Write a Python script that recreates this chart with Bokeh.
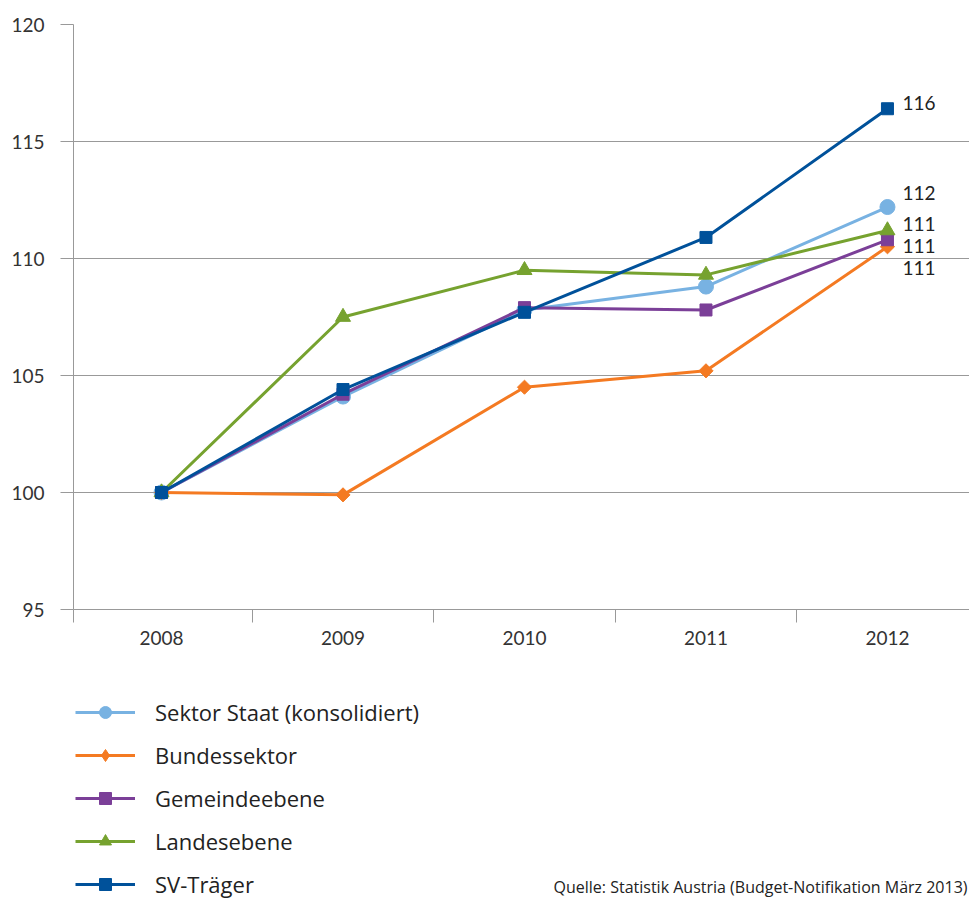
import math
from bokeh.plotting import figure
from bokeh.layouts import column
from bokeh.models import FixedTicker, Legend, LegendItem, Label, Range1d
from bokeh.core.properties import value
from bokeh.embed import file_html
from bokeh.resources import INLINE

years = ["2008", "2009", "2010", "2011", "2012"]
staat = [100.0, 104.1, 107.8, 108.8, 112.2]
bund = [100.0, 99.9, 104.5, 105.2, 110.5]
gemeinde = [100.0, 104.2, 107.9, 107.8, 110.8]
land = [100.0, 107.5, 109.5, 109.3, 111.2]
sv = [100.0, 104.4, 107.7, 110.9, 116.4]
end_labels = ["112", "111", "111", "111", "116"]
names = ["Sektor Staat (konsolidiert)", "Bundessektor", "Gemeindeebene", "Landesebene", "SV-Träger"]
source_text = "Quelle: Statistik Austria (Budget-Notifikation März 2013)"
y_ticks = [95, 100, 105, 110, 115, 120]

xs = list(range(len(years)))

FONT_T = "Lato"
FONT_L = "Open Sans"

p = figure(frame_width=896, frame_height=585, output_backend="svg", toolbar_location=None,
           x_range=Range1d(-0.485, 4.452), y_range=Range1d(95, 120),
           min_border_left=73, min_border_top=24, min_border_right=0, min_border_bottom=60)
p.outline_line_color = None
p.background_fill_color = "white"

# y axis
p.yaxis.ticker = FixedTicker(ticks=y_ticks)
p.yaxis.axis_line_color = "#999999"
p.yaxis.major_tick_line_color = "#999999"
p.yaxis.major_tick_out = 13
p.yaxis.major_tick_in = 0
p.yaxis.minor_tick_line_color = None
p.yaxis.major_label_text_font = FONT_T
p.yaxis.major_label_text_font_size = "19px"
p.yaxis.major_label_text_color = "#333333"
p.yaxis.major_label_standoff = 16
p.ygrid.ticker = FixedTicker(ticks=y_ticks)
p.ygrid.grid_line_color = "#999999"
p.xgrid.grid_line_color = None

# x axis
p.xaxis.ticker = FixedTicker(ticks=xs, minor_ticks=[-0.485, 0.5, 1.5, 2.5, 3.5])
p.xaxis.major_label_overrides = {i: y for i, y in enumerate(years)}
p.xaxis.axis_line_color = "#999999"
p.xaxis.major_tick_line_color = None
p.xaxis.minor_tick_line_color = "#999999"
p.xaxis.minor_tick_out = 13
p.xaxis.minor_tick_in = 0
p.xaxis.major_label_text_font = FONT_T
p.xaxis.major_label_text_font_size = "19px"
p.xaxis.major_label_text_color = "#333333"
p.xaxis.major_label_standoff = 8

series = [
    (staat, "#78b2e2", "circle", 15, 0),
    (bund, "#f47a22", "square", 10, math.pi / 4),
    (gemeinde, "#7b3f98", "square", 12, 0),
    (land, "#76a22f", "triangle", 15, 0),
    (sv, "#00519a", "square", 12, 0),
]
legend_markers = [("circle", 15), ("diamond", 17), ("square", 13), ("triangle", 15), ("square", 13)]
label_offsets = [-14, 21, 6, -6, -6]

for (vals, col, marker, size, ang) in series:
    p.line(xs, vals, line_color=col, line_width=3)
    p.scatter(xs, vals, marker=marker, size=size, angle=ang, fill_color=col, line_color=col)

# end labels
for (vals, col, marker, size, ang), lab, off in zip(series, end_labels, label_offsets):
    p.text(x=[xs[-1]], y=[vals[-1]], text=[lab], x_offset=15, y_offset=off,
           text_baseline="middle", text_align="left", text_font=value(FONT_T),
           text_font_size="19px", text_color="#222222")

# legend / source panel
q = figure(width=969, height=230, output_backend="svg", toolbar_location=None,
           x_range=Range1d(0, 969), y_range=Range1d(0, 230),
           min_border=0, x_axis_type=None, y_axis_type=None)
q.outline_line_color = None
q.grid.grid_line_color = None

items = []
for (vals, col, marker, size, ang), (lm, ls), name in zip(series, legend_markers, names):
    r1 = q.line([-100, -90], [-100, -100], line_color=col, line_width=3)
    r2 = q.scatter([-95], [-100], marker=lm, size=ls, fill_color=col, line_color=col)
    items.append(LegendItem(label=name, renderers=[r1, r2]))

legend = Legend(items=items, location=(2, 0), orientation="vertical",
                label_text_font=FONT_L, label_text_font_size="22px",
                label_text_color="#222222", glyph_width=60, glyph_height=30,
                label_height=30, spacing=13, label_standoff=20,
                border_line_color=None, background_fill_alpha=0,
                margin=0, padding=0)
q.add_layout(legend, "center")

src = Label(x=480, y=13, x_units="screen", y_units="screen", text=source_text,
            text_font=FONT_L, text_font_size="16px", text_color="#222222",
            text_baseline="middle")
q.add_layout(src)

layout = column(p, q, spacing=0)
open("out.html", "w").write(file_html(layout, INLINE))
